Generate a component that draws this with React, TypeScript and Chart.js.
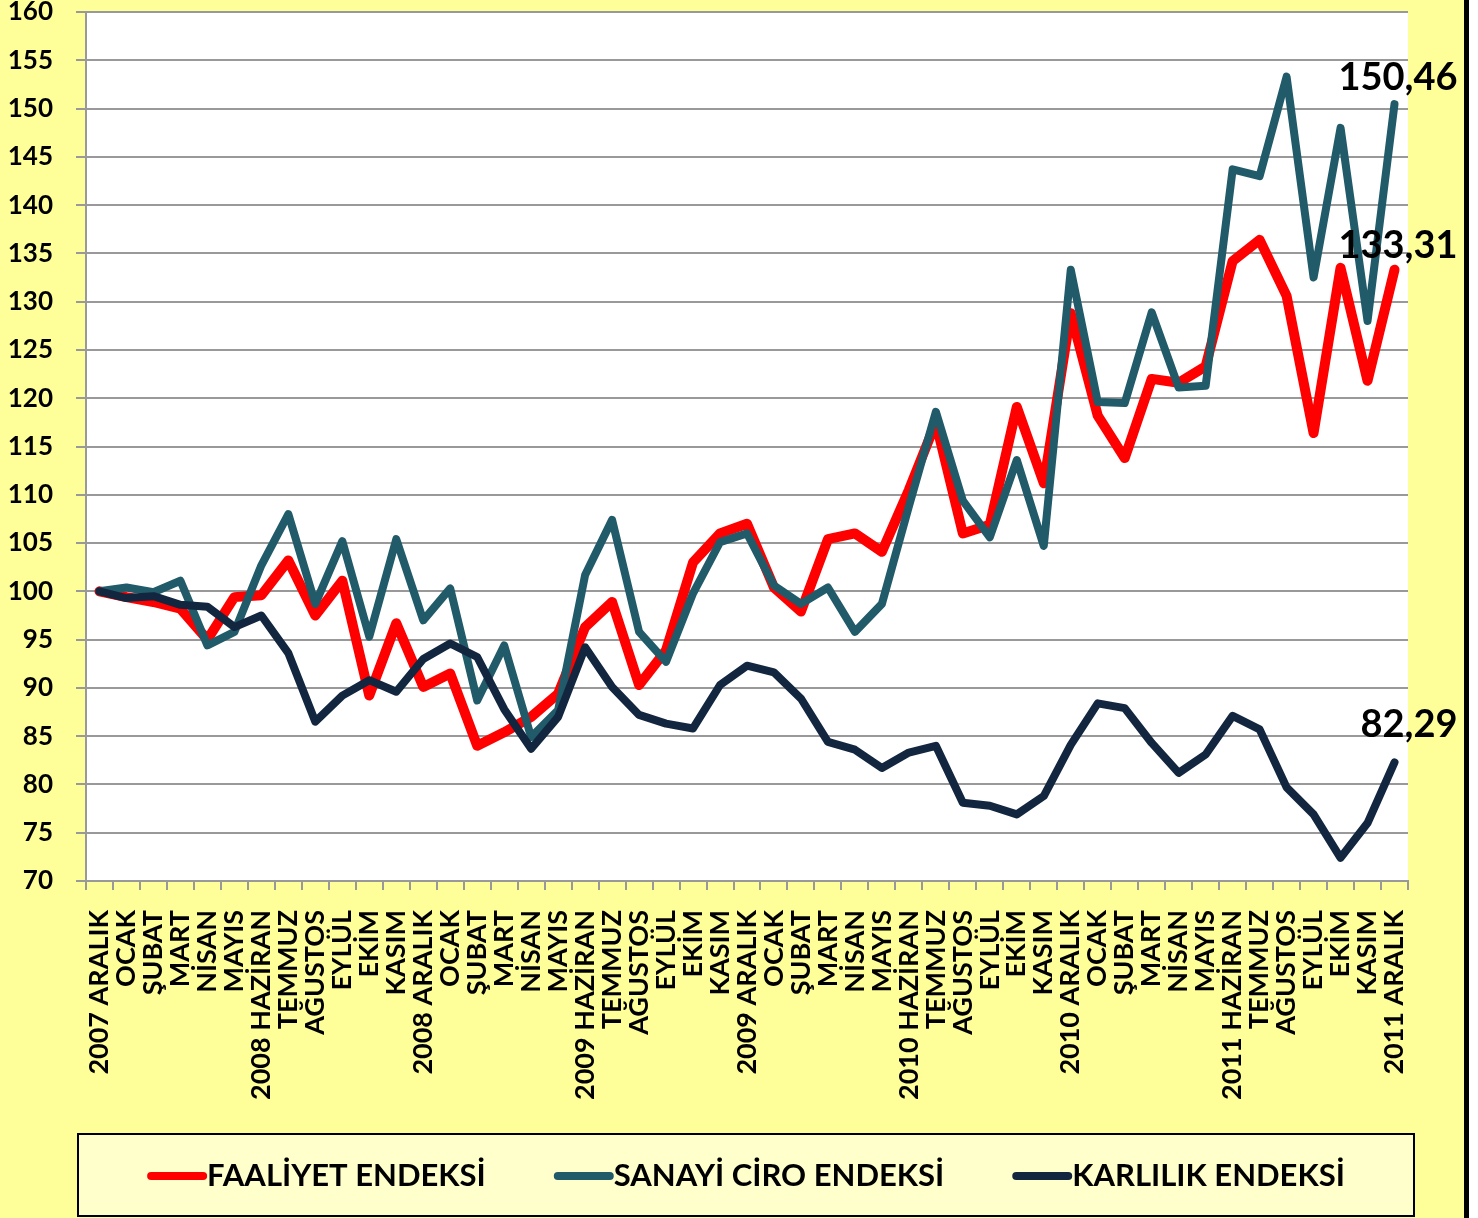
import React, { useEffect, useRef } from "react";
import { Chart, registerables } from "chart.js";

Chart.register(...registerables);

const categories = [
  "2007 ARALIK", "OCAK", "ŞUBAT", "MART", "NİSAN", "MAYIS",
  "2008 HAZİRAN", "TEMMUZ", "AĞUSTOS", "EYLÜL", "EKİM", "KASIM",
  "2008 ARALIK", "OCAK", "ŞUBAT", "MART", "NİSAN", "MAYIS",
  "2009 HAZİRAN", "TEMMUZ", "AĞUSTOS", "EYLÜL", "EKİM", "KASIM",
  "2009 ARALIK", "OCAK", "ŞUBAT", "MART", "NİSAN", "MAYIS",
  "2010 HAZİRAN", "TEMMUZ", "AĞUSTOS", "EYLÜL", "EKİM", "KASIM",
  "2010 ARALIK", "OCAK", "ŞUBAT", "MART", "NİSAN", "MAYIS",
  "2011 HAZİRAN", "TEMMUZ", "AĞUSTOS", "EYLÜL", "EKİM", "KASIM",
  "2011 ARALIK",
];

const faaliyet = [
  100, 99.4, 98.9, 98.2, 95.0, 99.4, 99.6, 103.2, 97.5, 101.1, 89.2, 96.7,
  90.1, 91.5, 84.0, 85.4, 87.0, 89.4, 96.3, 98.9, 90.3, 93.9, 103.0, 106.0,
  107.0, 100.4, 97.9, 105.4, 106.0, 104.1, 110.5, 117.5, 106.0, 106.9, 119.1, 111.2,
  128.8, 118.2, 113.8, 122.0, 121.6, 123.3, 134.2, 136.4, 130.6, 116.4, 133.5, 121.8,
  133.31,
];

const sanayiCiro = [
  100, 100.4, 99.9, 101.1, 94.4, 95.8, 102.7, 108.0, 98.7, 105.2, 95.3, 105.4,
  97.0, 100.3, 88.7, 94.4, 84.9, 87.7, 101.7, 107.4, 95.8, 92.7, 99.8, 105.1,
  106.0, 100.6, 98.7, 100.4, 95.8, 98.7, 108.8, 118.6, 109.4, 105.6, 113.6, 104.7,
  133.3, 119.6, 119.5, 128.9, 121.1, 121.3, 143.7, 143.0, 153.3, 132.5, 148.0, 128.0,
  150.46,
];

const karlilik = [
  100, 99.3, 99.5, 98.6, 98.4, 96.3, 97.5, 93.6, 86.5, 89.2, 90.8, 89.6,
  93.0, 94.6, 93.2, 87.8, 83.7, 87.0, 94.2, 90.1, 87.2, 86.3, 85.8, 90.3,
  92.3, 91.6, 88.9, 84.4, 83.6, 81.7, 83.3, 84.0, 78.1, 77.8, 76.9, 78.8,
  84.1, 88.4, 87.9, 84.3, 81.2, 83.1, 87.1, 85.7, 79.7, 76.9, 72.4, 76.0,
  82.29,
];

const seriesNames = ["FAALİYET ENDEKSİ", "SANAYİ CİRO ENDEKSİ", "KARLILIK ENDEKSİ"];
const seriesColors = ["#FF0000", "#215A69", "#12263F"];

const Y_MIN = 70;
const Y_MAX = 160;
const Y_STEP = 5;

const plotBackground = {
  id: "plotBackground",
  beforeDraw(chart: any) {
    const { ctx, chartArea } = chart;
    ctx.save();
    ctx.fillStyle = "#FFFFFF";
    ctx.fillRect(chartArea.left, chartArea.top, chartArea.right - chartArea.left, chartArea.bottom - chartArea.top);
    ctx.restore();
  },
};

const endLabels = {
  id: "endLabels",
  afterDatasetsDraw(chart: any) {
    const { ctx } = chart;
    ctx.save();
    ctx.font = "bold 38px Lato";
    ctx.fillStyle = "#000000";
    ctx.textAlign = "right";
    ctx.textBaseline = "alphabetic";
    chart.data.datasets.forEach((ds: any, i: number) => {
      const meta = chart.getDatasetMeta(i);
      const pt = meta.data[meta.data.length - 1];
      const v = ds.data[ds.data.length - 1] as number;
      const text = v.toFixed(2).replace(".", ",");
      ctx.fillText(text, pt.x + 63, pt.y - (ds.endLabelGap ?? 14));
    });
    ctx.restore();
  },
};

const boxedLegend = {
  id: "boxedLegend",
  afterDraw(chart: any) {
    const { ctx, chartArea } = chart;
    const left = chartArea.left - 8;
    const right = chartArea.right + 6;
    const top = chart.height - 84;
    const bottom = chart.height - 2;
    ctx.save();
    ctx.fillStyle = "#FFFFCC";
    ctx.fillRect(left, top, right - left, bottom - top);
    ctx.strokeStyle = "#000000";
    ctx.lineWidth = 2;
    ctx.strokeRect(left, top, right - left, bottom - top);

    ctx.font = "bold 31px Lato";
    const lineLen = 60;
    const gap = 68;
    const widths = chart.data.datasets.map((ds: any) => ctx.measureText(ds.label).width);
    const total = widths.reduce((a: number, w: number) => a + w + lineLen, 0) + gap * (widths.length - 1);
    let x = (left + right) / 2 - total / 2;
    const cy = (top + bottom) / 2 + 1;
    chart.data.datasets.forEach((ds: any, i: number) => {
      ctx.strokeStyle = ds.borderColor;
      ctx.lineWidth = 8;
      ctx.lineCap = "round";
      ctx.beginPath();
      ctx.moveTo(x + 4, cy);
      ctx.lineTo(x + lineLen - 4, cy);
      ctx.stroke();
      ctx.fillStyle = "#000000";
      ctx.textAlign = "left";
      ctx.textBaseline = "middle";
      ctx.fillText(ds.label, x + lineLen, cy);
      x += lineLen + widths[i] + gap;
    });
    ctx.restore();
  },
};

export default function App() {
  const ref = useRef<HTMLCanvasElement>(null);

  useEffect(() => {
    document.body.style.margin = "0";
    const canvas = ref.current;
    if (!canvas) return;
    const tickFont = { family: "Lato", weight: "bold" as const, size: 26 };
    const chart = new Chart(canvas, {
      type: "line",
      data: {
        labels: categories,
        datasets: [
          {
            label: seriesNames[0],
            data: faaliyet,
            borderColor: seriesColors[0],
            backgroundColor: seriesColors[0],
            borderWidth: 10,
            order: 3,
            endLabelGap: 12,
          } as any,
          {
            label: seriesNames[1],
            data: sanayiCiro,
            borderColor: seriesColors[1],
            backgroundColor: seriesColors[1],
            borderWidth: 8,
            order: 2,
            endLabelGap: 14,
          } as any,
          {
            label: seriesNames[2],
            data: karlilik,
            borderColor: seriesColors[2],
            backgroundColor: seriesColors[2],
            borderWidth: 8,
            order: 1,
            endLabelGap: 25,
          } as any,
        ],
      },
      options: {
        responsive: false,
        animation: false,
        devicePixelRatio: 1,
        layout: { padding: { left: 0, right: 56, top: 0, bottom: 88 } },
        elements: {
          line: { tension: 0, borderJoinStyle: "round", borderCapStyle: "round", fill: false },
          point: { radius: 0, hoverRadius: 0 },
        },
        plugins: {
          legend: { display: false },
          tooltip: { enabled: false },
        },
        scales: {
          x: {
            type: "category",
            offset: true,
            grid: {
              display: true,
              drawOnChartArea: false,
              drawTicks: true,
              tickLength: 9,
              offset: true,
              color: "#999999",
              lineWidth: 2,
            },
            border: { display: true, color: "#999999", width: 2 },
            ticks: {
              autoSkip: false,
              minRotation: 90,
              maxRotation: 90,
              padding: 20,
              color: "#000000",
              font: { family: "Lato", weight: "bold", size: 27 },
            },
            afterFit: (s: any) => {
              s.height = 249;
              s.paddingLeft = 0;
              s.paddingRight = 0;
            },
          },
          y: {
            min: Y_MIN,
            max: Y_MAX,
            ticks: {
              stepSize: Y_STEP,
              padding: 23,
              color: "#000000",
              font: tickFont,
            },
            grid: { color: "#999999", lineWidth: 2, tickLength: 10 },
            border: { display: true, color: "#999999", width: 2 },
            afterFit: (s: any) => {
              s.width = 86;
              s.paddingTop = 12;
              s.paddingBottom = 0;
            },
          },
        },
      } as any,
      plugins: [plotBackground, endLabels, boxedLegend],
    });
    return () => chart.destroy();
  }, []);

  return (
    <div
      style={{
        width: 1464,
        height: 1218,
        background: "#FFFF99",
        borderRight: "5px solid #000000",
        overflow: "hidden",
      }}
    >
      <canvas ref={ref} width={1464} height={1218} style={{ display: "block" }} />
    </div>
  );
}
